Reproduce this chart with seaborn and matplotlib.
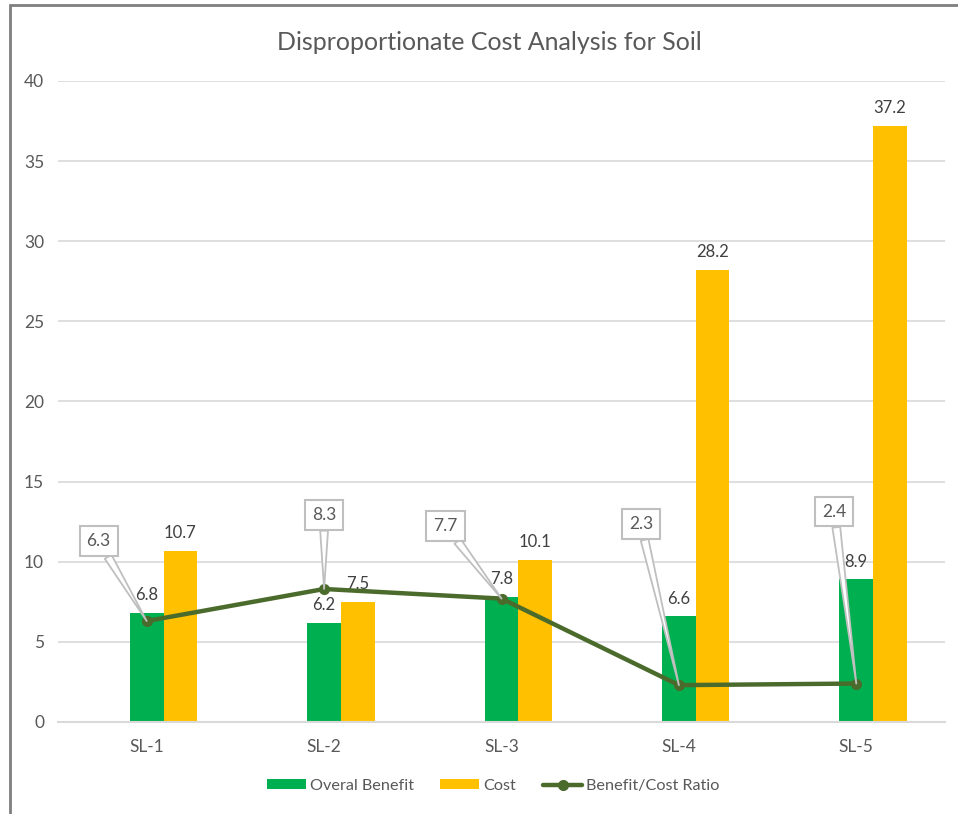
import numpy as np
import pandas as pd
import matplotlib
matplotlib.use("Agg")
import matplotlib.pyplot as plt
from matplotlib.patches import Rectangle
from matplotlib.lines import Line2D
from matplotlib.patches import Patch
import seaborn as sns

categories = ["SL-1", "SL-2", "SL-3", "SL-4", "SL-5"]
benefit = [6.8, 6.2, 7.8, 6.6, 8.9]
cost = [10.7, 7.5, 10.1, 28.2, 37.2]
ratio = [6.3, 8.3, 7.7, 2.3, 2.4]
series_names = ["Overal Benefit", "Cost"]
ratio_name = "Benefit/Cost Ratio"
title = "Disproportionate Cost Analysis for Soil"
yticks = [0, 5, 10, 15, 20, 25, 30, 35, 40]

# callout offsets in pixels (label box relative to point)
callout_offsets = [(-48, 80), (0, 74), (-56, 73), (-38, 161), (-22, 172)]

GREEN = "#00B050"
GOLD = "#FFC000"
LINE = "#4B6B2C"
TXT = "#595959"
GRID = "#D9D9D9"

sns.set_theme(style="white")
plt.rcParams["font.family"] = ["Lato", "DejaVu Sans"]

# Excel layout places an empty slot before the two bar series, so the
# benefit bar sits on the category centre; keep an empty placeholder level.
placeholder = " "
hue_levels = [placeholder] + series_names
df = pd.DataFrame({
    "cat": categories * 2,
    "series": [series_names[0]] * len(categories) + [series_names[1]] * len(categories),
    "value": benefit + cost,
})

fig = plt.figure(figsize=(9.58, 8.14), dpi=100)
ax = fig.add_axes([58 / 958, 1 - 722 / 814, (945 - 58) / 958, (722 - 81) / 814])

sns.barplot(data=df, x="cat", y="value", hue="series", order=categories,
            hue_order=hue_levels, palette=["white", GREEN, GOLD], width=0.57, gap=0,
            saturation=1, errorbar=None, legend=False, ax=ax, linewidth=0)

for cont in ax.containers:
    vals = [p.get_height() for p in cont.patches]
    if all(np.isfinite(v) and v > 0 for v in vals):
        ax.bar_label(cont, fmt="%.1f", padding=7, color="#404040", fontsize=12)

xpos = np.arange(len(categories))
sns.lineplot(x=xpos, y=ratio, ax=ax, color=LINE, linewidth=3.2, marker="o",
             markersize=8, markeredgewidth=0, legend=False, zorder=5)

for i, (r, off) in enumerate(zip(ratio, callout_offsets)):
    ax.annotate(f"{r:.1f}", xy=(xpos[i], r), xytext=off, textcoords="offset pixels",
                ha="center", va="center", fontsize=12.5, color="#595959",
                bbox=dict(boxstyle="square,pad=0.4", fc="white", ec="#BFBFBF", lw=1.5),
                arrowprops=dict(arrowstyle="wedge,tail_width=0.45", fc="white",
                                ec="#BFBFBF", lw=1.3, shrinkA=0, shrinkB=0),
                zorder=6)

ax.set_xlim(-0.5, len(categories) - 0.5)
ax.set_ylim(0, 40)
ax.set_yticks(yticks)
ax.yaxis.grid(True, color=GRID, linewidth=1.2)
ax.set_axisbelow(True)
for s in ["top", "right", "left"]:
    ax.spines[s].set_visible(False)
ax.spines["bottom"].set_color(GRID)
ax.spines["bottom"].set_linewidth(1.5)
ax.tick_params(axis="both", length=0, colors=TXT, labelsize=12.5)
ax.tick_params(axis="y", pad=10)
ax.tick_params(axis="x", pad=12)
ax.set_xlabel("")
ax.set_ylabel("")

fig.text(489 / 958, 1 - 42 / 814, title, ha="center", va="center",
         fontsize=18, color=TXT)

handles = [Patch(facecolor=GREEN, edgecolor="none"),
           Patch(facecolor=GOLD, edgecolor="none"),
           Line2D([0], [0], color=LINE, lw=3.2, marker="o", markersize=7)]
fig.legend(handles, series_names + [ratio_name], loc="center",
           bbox_to_anchor=(493 / 958, 1 - 786 / 814), ncol=3, frameon=False,
           fontsize=11.7, labelcolor=TXT, handlelength=2.4, handleheight=0.55,
           columnspacing=1.65, handletextpad=0.25)

# outer frame (partially visible in the reference)
fig.patches.append(Rectangle((10 / 958, -0.1), 1.2, 1 - 5 / 814 + 0.1,
                             transform=fig.transFigure, fill=False,
                             ec="#7F7F7F", lw=2, zorder=10))

fig.savefig("out.png", dpi=100, facecolor="white")
